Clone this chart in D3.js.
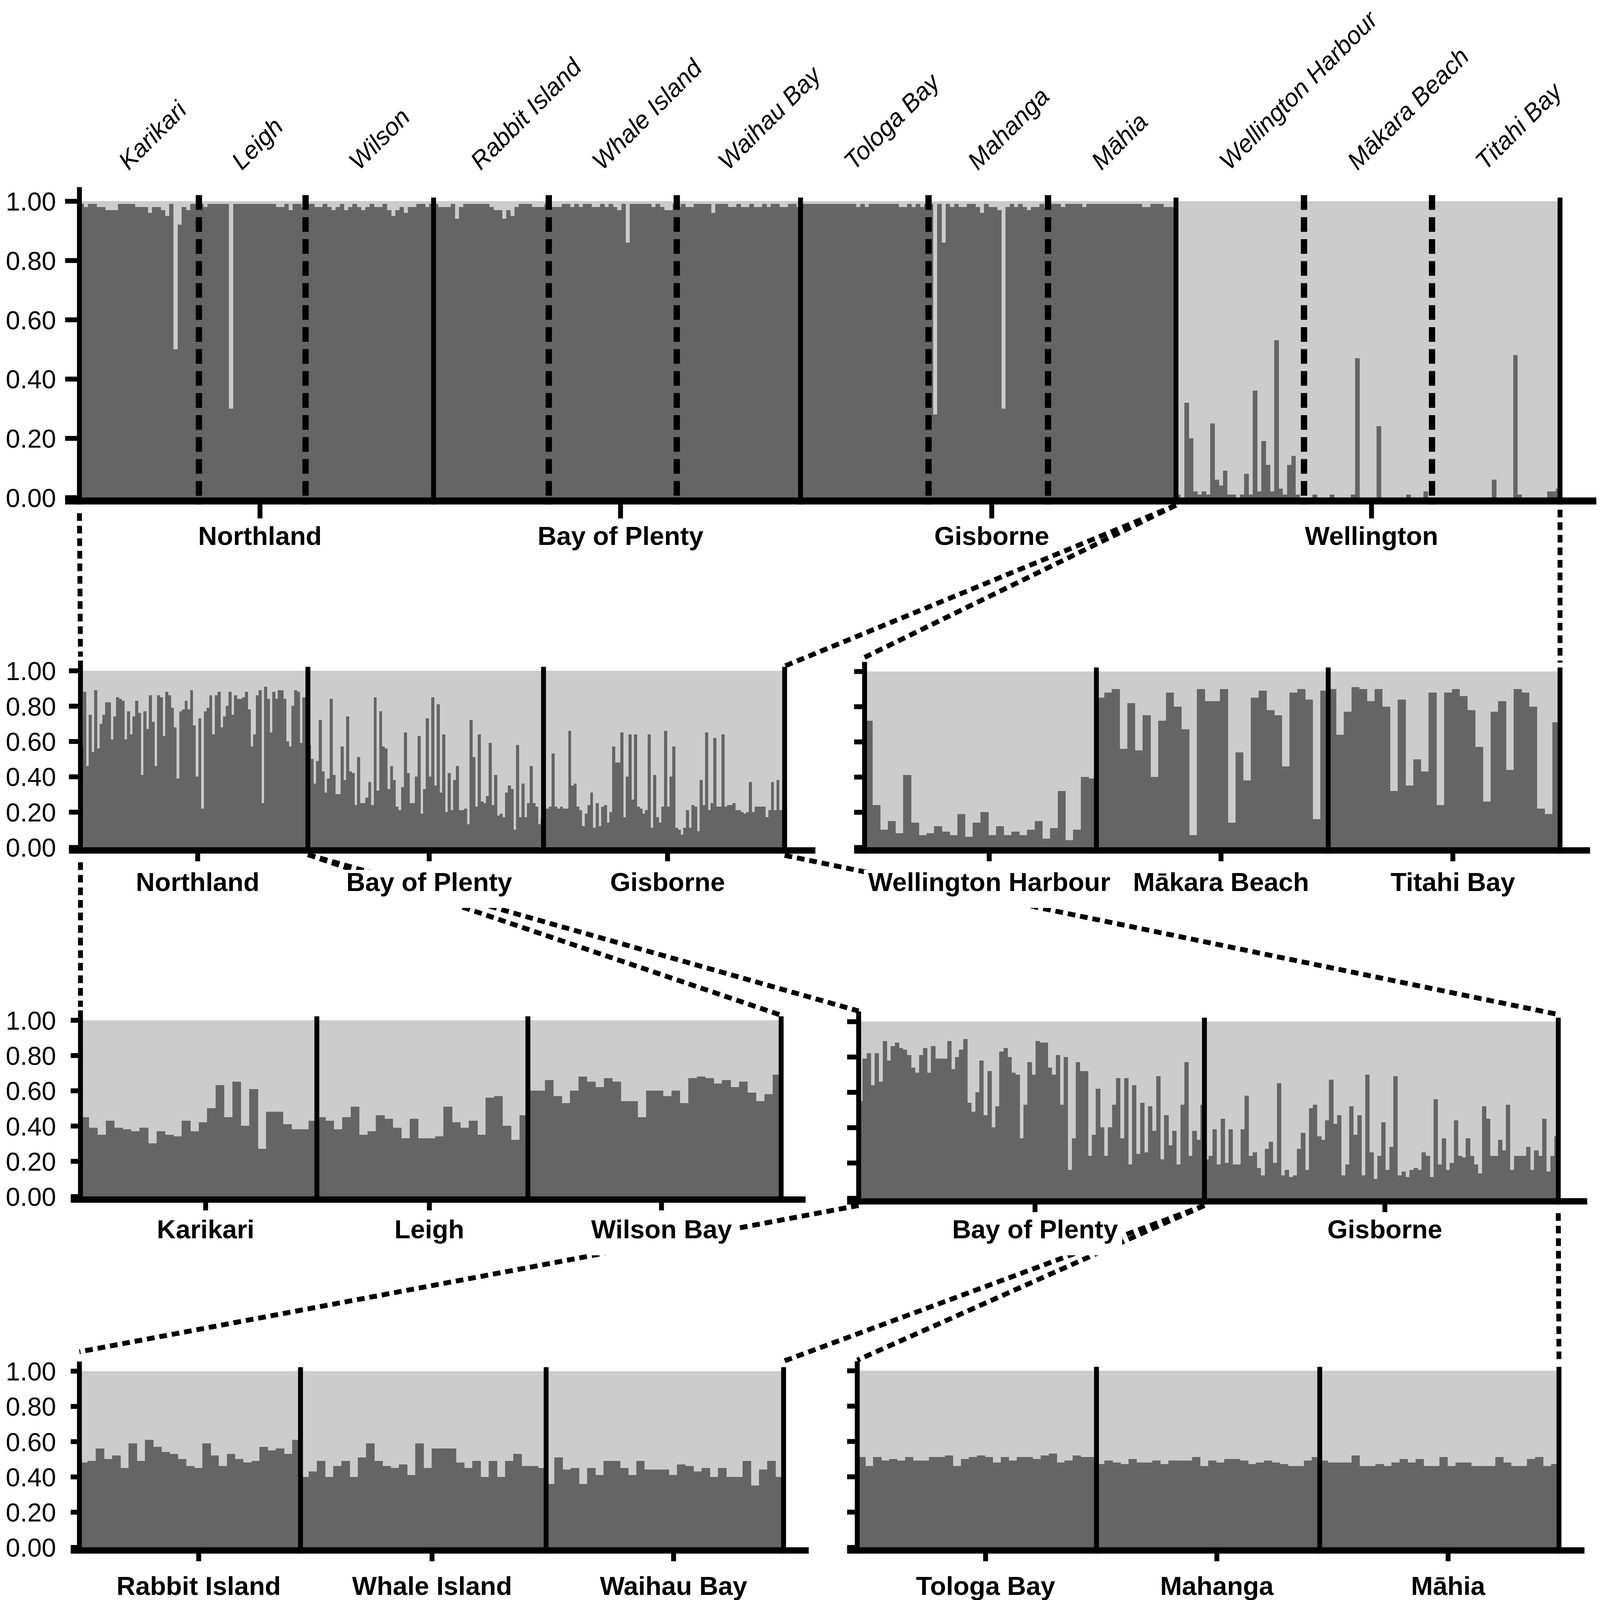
<!DOCTYPE html>
<html>
<head>
<meta charset="utf-8">
<script src="https://cdn.jsdelivr.net/npm/d3@7/dist/d3.min.js"></script>
<style>
html,body{margin:0;padding:0;background:#fff;overflow:hidden;width:100%;height:100%;}
svg{display:block;width:100vw;height:100vh;}
</style>
</head>
<body>
<script>
// ================= DATA =================
const yTickValues = [0, 0.2, 0.4, 0.6, 0.8, 1.0];
const regionNames = ["Northland", "Bay of Plenty", "Gisborne", "Wellington"];
const popNames = ["Karikari", "Leigh", "Wilson", "Rabbit Island", "Whale Island", "Waihau Bay",
                  "Tologa Bay", "Mahanga", "Māhia", "Wellington Harbour", "Mākara Beach", "Titahi Bay"];

// Panel A: all sites (membership in dark cluster per individual)
const topKarikari = [.99,.98,.99,.99,.98,.98,.97,.97,.97,.99,.99,.99,.99,.98,.98,.98,.96,.98,.98,.97,.95,.99,.50,.92,.98,.97,.99,.99];
const topLeigh    = [.99,.98,.99,.99,.99,.99,.99,.30,.99,.99,.99,.99,.99,.99,.99,.99,.99,.99,.98,.98,.99,.97,.99,.99,.98];
const topWilson   = [.99,.99,.98,.98,.99,.98,.97,.98,.99,.97,.98,.99,.98,.97,.98,.99,.98,.98,.99,.97,.95,.97,.98,.96,.98,.98,.99,.99,.98,.99];
const topRabbit   = [.99,.98,.98,.98,.99,.94,.98,.99,.99,.99,.99,.99,.99,.98,.97,.97,.94,.97,.95,.98,.99,.99,.99,.98,.98,.98,.99];
const topWhale    = [.98,.98,.98,.99,.99,.98,.99,.98,.99,.99,.98,.98,.99,.98,.99,.98,.97,.99,.86,.99,.99,.99,.99,.99,.98,.99,.98,.97,.97,.99];
const topWaihau   = [.98,.99,.98,.98,.99,.99,.99,.99,.96,.99,.99,.99,.98,.98,.99,.98,.98,.99,.98,.98,.99,.98,.99,.99,.98,.98,.99,.99,.98];
const topTologa   = [.99,.99,.99,.99,.99,.99,.99,.99,.99,.99,.99,.99,.99,.98,.99,.98,.99,.99,.99,.99,.99,.99,.99,.98,.98,.99,.98,.99,.98,.99];
const topMahanga  = [.99,.28,.99,.86,.99,.98,.99,.98,.98,.99,.99,.98,.96,.99,.98,.98,.97,.30,.98,.99,.98,.99,.98,.97,.98,.98,.99,.98];
const topMahia    = [.99,.99,.99,.98,.99,.99,.99,.99,.98,.99,.99,.99,.99,.99,.99,.99,.99,.99,.99,.99,.99,.99,.98,.98,.99,.99,.99,.98,.98,.98];
const topWH       = [.01,.00,.32,.20,.02,.01,.02,.01,.25,.06,.04,.09,.01,.01,.00,.01,.08,.01,.36,.02,.19,.11,.02,.53,.03,.01,.11,.14,.01,.00];
const topMakara   = [.00,.00,.01,.00,.00,.00,.01,.00,.00,.00,.00,.01,.47,.00,.00,.00,.00,.24,.00,.00,.00,.00,.00,.00,.01,.00,.00,.00,.02,.00];
const topTitahi   = [.00,.00,.00,.00,.00,.00,.00,.00,.00,.00,.00,.00,.00,.00,.06,.00,.00,.00,.00,.48,.01,.00,.00,.00,.00,.00,.00,.02,.02,.03];

// Panel B: Northland / Bay of Plenty / Gisborne
const r2Northland = [.57,.88,.46,.75,.54,.89,.56,.70,.75,.82,.82,.61,.74,.85,.84,.83,.61,.77,.64,.74,
  .83,.76,.41,.77,.67,.86,.71,.46,.86,.85,.63,.88,.86,.79,.68,.39,.77,.78,.83,.78,
  .89,.69,.40,.73,.22,.77,.79,.86,.64,.86,.88,.68,.74,.80,.88,.75,.86,.84,.84,.85,
  .88,.78,.57,.64,.86,.89,.25,.91,.84,.65,.88,.84,.89,.89,.84,.60,.57,.80,.89,.88,.59,.85,.58];
const r2BayOfPlenty = [.58,.50,.36,.49,.72,.43,.31,.39,.84,.41,.30,.30,.57,.38,.74,.43,.42,.24,.51,.25,
  .25,.28,.37,.24,.85,.32,.77,.57,.56,.33,.46,.38,.23,.21,.34,.65,.42,.25,.25,.40,.63,.19,
  .33,.73,.40,.85,.35,.81,.31,.64,.20,.42,.21,.38,.46,.21,.21,.22,.13,.72,.51,.23,
  .64,.26,.25,.29,.59,.24,.41,.18,.19,.17,.31,.35,.33,.10,.58,.17,.36,.17,.25,.46,.25,.23,.13,.16];
const r2Gisborne = [.22,.22,.23,.53,.23,.22,.23,.22,.22,.66,.35,.36,.23,.21,.12,.19,.24,.31,.11,.25,
  .12,.23,.24,.14,.20,.57,.48,.48,.65,.17,.40,.64,.27,.64,.23,.22,.19,.21,.64,.11,
  .41,.17,.14,.23,.66,.23,.40,.57,.11,.10,.07,.11,.21,.11,.24,.23,.09,.38,.24,.65,
  .21,.25,.62,.23,.23,.64,.23,.24,.24,.25,.21,.21,.20,.19,.20,.37,.20,.23,.23,.23,
  .23,.17,.21,.37,.21,.38,.21,.22];

// Panel C: Wellington sites
const r2WellingtonHarbour = [.72,.24,.10,.15,.08,.41,.14,.07,.08,.12,.09,.07,.19,.06,.14,.20,.07,.12,.07,.09,.07,.10,.15,.05,.11,.32,.04,.10,.40,.39];
const r2MakaraBeach = [.85,.88,.90,.56,.82,.55,.75,.40,.72,.88,.80,.67,.07,.90,.83,.83,.90,.14,.54,.38,.85,.89,.78,.75,.46,.88,.90,.84,.16,.89];
const r2TitahiBay = [.90,.64,.77,.91,.90,.83,.90,.80,.32,.84,.35,.50,.43,.88,.24,.88,.90,.86,.78,.57,.26,.77,.83,.44,.90,.88,.80,.22,.19,.71];

// Panel D: Northland sites
const r3Karikari = [.45,.39,.35,.43,.39,.38,.37,.39,.30,.37,.35,.34,.43,.37,.42,.50,.63,.45,.65,.40,.61,.27,.48,.48,.41,.38,.38,.43];
const r3Leigh = [.45,.43,.38,.45,.51,.35,.37,.46,.44,.39,.33,.44,.33,.33,.34,.51,.42,.39,.43,.35,.56,.57,.40,.32,.46];
const r3WilsonBay = [.60,.60,.66,.57,.53,.60,.68,.65,.62,.67,.65,.54,.54,.45,.60,.60,.57,.60,.53,.67,.68,.67,.64,.66,.62,.65,.59,.54,.58,.69];

// Panel E: Bay of Plenty / Gisborne
const r3BayOfPlenty = [.55,.79,.82,.64,.82,.66,.89,.78,.86,.88,.85,.84,.81,.74,.71,.81,.85,.71,.86,.79,
  .79,.79,.89,.73,.80,.84,.90,.54,.49,.60,.78,.47,.72,.40,.52,.83,.85,.80,.71,.70,
  .34,.53,.77,.70,.89,.88,.88,.74,.70,.81,.53,.80,.16,.34,.77,.72,.72,.24,.36,.62,
  .40,.24,.40,.53,.68,.34,.68,.19,.64,.25,.54,.26,.52,.38,.69,.22,.47,.30,.38,.19,
  .53,.77,.24,.38,.33,.53];
const r3Gisborne = [.22,.24,.39,.19,.45,.20,.39,.19,.19,.39,.58,.24,.26,.17,.13,.28,.32,.20,.65,.13,
  .16,.12,.13,.28,.37,.16,.51,.53,.35,.33,.44,.67,.42,.47,.13,.19,.52,.36,.47,.13,
  .70,.26,.11,.24,.43,.16,.29,.69,.13,.15,.12,.16,.17,.16,.26,.24,.12,.56,.19,.34,
  .16,.20,.44,.24,.23,.34,.24,.19,.14,.52,.45,.24,.24,.33,.27,.53,.16,.24,.24,.24,
  .29,.16,.27,.24,.45,.15,.24,.35];

// Panel F: Bay of Plenty sites
const r4RabbitIsland = [.48,.49,.56,.50,.52,.45,.59,.49,.61,.57,.54,.53,.50,.46,.45,.59,.52,.46,.53,.50,.48,.49,.57,.55,.56,.53,.61];
const r4WhaleIsland = [.40,.43,.49,.40,.46,.49,.40,.51,.59,.49,.46,.45,.47,.41,.59,.45,.56,.56,.56,.48,.45,.49,.40,.49,.40,.49,.53,.46,.46,.45];
const r4WaihauBay = [.36,.51,.44,.45,.36,.45,.41,.49,.49,.45,.41,.49,.44,.44,.44,.41,.47,.46,.43,.45,.40,.45,.40,.40,.49,.35,.44,.49,.40];

// Panel G: Gisborne sites
const r4TologaBay = [.51,.46,.51,.49,.50,.49,.51,.49,.49,.51,.51,.52,.46,.50,.51,.52,.51,.48,.51,.49,.51,.51,.50,.52,.53,.48,.49,.52,.51,.51];
const r4Mahanga = [.47,.49,.48,.47,.50,.48,.48,.49,.47,.49,.49,.49,.51,.46,.49,.48,.50,.50,.49,.47,.48,.49,.48,.47,.46,.46,.49,.51];
const r4Mahia = [.49,.48,.48,.48,.52,.46,.46,.47,.46,.48,.50,.48,.50,.46,.46,.51,.46,.48,.48,.46,.46,.46,.51,.48,.46,.46,.50,.51,.46,.47];

// ================= DRAWING =================
const W = 4562, H = 4583;
const DARK = "#656565", LIGHT = "#cccccc";
const FONT = "'Liberation Sans', Arial, Helvetica, sans-serif";

const svg = d3.select("body").append("svg")
  .attr("viewBox", `0 0 ${W} ${H}`)
  .attr("preserveAspectRatio", "xMidYMid meet");
svg.append("rect").attr("width", W).attr("height", H).attr("fill", "#fff");
const gConn = svg.append("g");
const gPanels = svg.append("g");
const gLabels = svg.append("g");
const labelQueue = [];

function drawPanel(cfg) {
  const flat = [];
  cfg.groups.forEach((gr, gi) => gr.values.forEach(v => flat.push({ v, gi })));
  const x = d3.scaleBand().domain(d3.range(flat.length)).range([cfg.x0, cfg.x1]).paddingInner(0).paddingOuter(0);
  const y = d3.scaleLinear().domain([0, 1]).range([cfg.yBot, cfg.yTop]);
  const g = gPanels.append("g");
  const bw = x.bandwidth();

  g.append("g").attr("shape-rendering", "crispEdges").selectAll("rect").data(flat).join("rect")
    .attr("x", (d, i) => x(i)).attr("width", bw + 0.9)
    .attr("y", y(1)).attr("height", d => Math.max(0, y(d.v) - y(1)))
    .attr("fill", LIGHT);
  g.append("g").attr("shape-rendering", "crispEdges").selectAll("rect").data(flat).join("rect")
    .attr("x", (d, i) => x(i)).attr("width", bw + 0.9)
    .attr("y", d => y(d.v)).attr("height", d => Math.max(0, y(0) - y(d.v)))
    .attr("fill", DARK);

  const edges = [cfg.x0];
  let c = 0;
  cfg.groups.forEach(gr => { c += gr.values.length; edges.push(c >= flat.length ? cfg.x1 : x(c)); });

  cfg.groups.forEach((gr, gi) => {
    const ex = edges[gi + 1];
    const dashed = gr.sep === "dash";
    g.append("line")
      .attr("x1", ex).attr("x2", ex)
      .attr("y1", cfg.yTop - (dashed ? cfg.dashExt : cfg.sepExt))
      .attr("y2", cfg.yBot + cfg.xAxisW)
      .attr("stroke", "#000")
      .attr("stroke-width", dashed ? 18 : 14)
      .attr("stroke-dasharray", dashed ? "42,21" : null);
  });

  const xAxisY = cfg.yBot + cfg.xAxisW / 2;
  g.append("line")
    .attr("x1", cfg.x0 - cfg.tickLen).attr("x2", Math.min(W, cfg.x1 + cfg.xExt))
    .attr("y1", xAxisY).attr("y2", xAxisY)
    .attr("stroke", "#000").attr("stroke-width", cfg.xAxisW);

  const yAxis = d3.axisLeft(y).tickValues(yTickValues).tickSize(cfg.tickLen).tickPadding(cfg.tickPad)
    .tickFormat(cfg.yLabels ? d3.format(".2f") : () => "");
  const ga = g.append("g").attr("transform", `translate(${cfg.x0},0)`).call(yAxis);
  ga.select(".domain").remove();
  ga.selectAll(".tick line").attr("stroke", "#000").attr("stroke-width", 14);
  ga.selectAll(".tick text").attr("font-family", FONT).attr("font-size", 74).attr("fill", "#000").attr("dy", "0.36em");
  g.append("line")
    .attr("x1", cfg.x0).attr("x2", cfg.x0)
    .attr("y1", cfg.yTop - cfg.axisExt).attr("y2", cfg.yBot + cfg.xAxisW)
    .attr("stroke", "#000").attr("stroke-width", 14);

  cfg.xLabels.forEach(lb => {
    const cx = (edges[lb.from] + edges[lb.to + 1]) / 2 + cfg.tickShift;
    g.append("line")
      .attr("x1", cx).attr("x2", cx)
      .attr("y1", cfg.yBot + cfg.xAxisW - 2).attr("y2", cfg.yBot + cfg.xAxisW + cfg.gTickLen)
      .attr("stroke", "#000").attr("stroke-width", 14);
    labelQueue.push({ text: lb.label, x: cx, y: cfg.yBot + cfg.labelDy, mask: cfg.mask });
  });

  if (cfg.topNames) {
    cfg.groups.forEach((gr, gi) => {
      const cx = (edges[gi] + edges[gi + 1]) / 2 - 30;
      gLabels.append("text")
        .attr("transform", `translate(${cx},${cfg.yTop - 86}) rotate(-45)`)
        .attr("font-family", FONT).attr("font-style", "italic").attr("font-size", 71)
        .attr("fill", "#000").text(gr.name);
    });
  }
  return { x, y, edges, ...cfg };
}

const base = { xAxisW: 18, sepExt: 11, dashExt: 17, gTickLen: 22, tickShift: 10, xExt: 80, mask: true };

// Panel A
const regionOf = [0, 0, 0, 1, 1, 1, 2, 2, 2, 3, 3, 3];
const topValues = [topKarikari, topLeigh, topWilson, topRabbit, topWhale, topWaihau,
                   topTologa, topMahanga, topMahia, topWH, topMakara, topTitahi];
const topGroups = popNames.map((n, i) => ({
  name: n, values: topValues[i],
  sep: (i === popNames.length - 1 || regionOf[i + 1] !== regionOf[i]) ? "solid" : "dash"
}));
const pA = drawPanel({ ...base, x0: 217, x1: 4458, yTop: 576, yBot: 1425, xAxisW: 20,
  tickLen: 41, tickPad: 26, yLabels: true, axisExt: 40, sepExt: 10, xExt: 110, gTickLen: 40, labelDy: 136,
  groups: topGroups, topNames: true, mask: false,
  xLabels: regionNames.map((r, ri) => ({ label: r, from: regionOf.indexOf(ri), to: regionOf.lastIndexOf(ri) })) });

// Panel B
const pB = drawPanel({ ...base, x0: 220, x1: 2237, yTop: 1921, yBot: 2427,
  tickLen: 33, tickPad: 37, yLabels: true, axisExt: 29, xExt: 88, labelDy: 125,
  groups: [{ name: "Northland", values: r2Northland, sep: "solid" },
           { name: "Bay of Plenty", values: r2BayOfPlenty, sep: "solid" },
           { name: "Gisborne", values: r2Gisborne, sep: "solid" }],
  xLabels: [{ label: "Northland", from: 0, to: 0 }, { label: "Bay of Plenty", from: 1, to: 1 }, { label: "Gisborne", from: 2, to: 2 }] });

// Panel C
const pC = drawPanel({ ...base, x0: 2466, x1: 4458, yTop: 1923, yBot: 2427,
  tickLen: 30, tickPad: 20, yLabels: false, axisExt: 27, xExt: 86, labelDy: 125, tickShift: 25,
  groups: [{ name: "Wellington Harbour", values: r2WellingtonHarbour, sep: "solid" },
           { name: "Mākara Beach", values: r2MakaraBeach, sep: "solid" },
           { name: "Titahi Bay", values: r2TitahiBay, sep: "solid" }],
  xLabels: [{ label: "Wellington Harbour", from: 0, to: 0 }, { label: "Mākara Beach", from: 1, to: 1 }, { label: "Titahi Bay", from: 2, to: 2 }] });

// Panel D
const pD = drawPanel({ ...base, x0: 220, x1: 2227, yTop: 2922, yBot: 3427,
  tickLen: 28, tickPad: 42, yLabels: true, axisExt: 28, xExt: 70, labelDy: 120, tickShift: 20,
  groups: [{ name: "Karikari", values: r3Karikari, sep: "solid" },
           { name: "Leigh", values: r3Leigh, sep: "solid" },
           { name: "Wilson Bay", values: r3WilsonBay, sep: "solid" }],
  xLabels: [{ label: "Karikari", from: 0, to: 0 }, { label: "Leigh", from: 1, to: 1 }, { label: "Wilson Bay", from: 2, to: 2 }] });

// Panel E
const pE = drawPanel({ ...base, x0: 2449, x1: 4453, yTop: 2926, yBot: 3432,
  tickLen: 33, tickPad: 20, yLabels: false, axisExt: 29, xExt: 83, labelDy: 115, tickShift: 10,
  groups: [{ name: "Bay of Plenty", values: r3BayOfPlenty, sep: "solid" },
           { name: "Gisborne", values: r3Gisborne, sep: "solid" }],
  xLabels: [{ label: "Bay of Plenty", from: 0, to: 0 }, { label: "Gisborne", from: 1, to: 1 }] });

// Panel F
const pF = drawPanel({ ...base, x0: 217, x1: 2234, yTop: 3927, yBot: 4432,
  tickLen: 25, tickPad: 42, yLabels: true, axisExt: 27, xExt: 72, labelDy: 136, tickShift: 25,
  groups: [{ name: "Rabbit Island", values: r4RabbitIsland, sep: "solid" },
           { name: "Whale Island", values: r4WhaleIsland, sep: "solid" },
           { name: "Waihau Bay", values: r4WaihauBay, sep: "solid" }],
  xLabels: [{ label: "Rabbit Island", from: 0, to: 0 }, { label: "Whale Island", from: 1, to: 1 }, { label: "Waihau Bay", from: 2, to: 2 }] });

// Panel G
const pG = drawPanel({ ...base, x0: 2445, x1: 4455, yTop: 3926, yBot: 4432,
  tickLen: 29, tickPad: 20, yLabels: false, axisExt: 27, xExt: 73, labelDy: 136, tickShift: 25,
  groups: [{ name: "Tologa Bay", values: r4TologaBay, sep: "solid" },
           { name: "Mahanga", values: r4Mahanga, sep: "solid" },
           { name: "Māhia", values: r4Mahia, sep: "solid" }],
  xLabels: [{ label: "Tologa Bay", from: 0, to: 0 }, { label: "Mahanga", from: 1, to: 1 }, { label: "Māhia", from: 2, to: 2 }] });

// ===== connectors (dotted zoom lines) =====
function conn(x1, y1, x2, y2) {
  gConn.append("line").attr("x1", x1).attr("y1", y1).attr("x2", x2).attr("y2", y2)
    .attr("stroke", "#000").attr("stroke-width", 14).attr("stroke-dasharray", "22,14");
}
const below = p => p.yBot + p.xAxisW;
// A -> B, C
conn(pA.x0, below(pA) + 25, pB.x0, pB.yTop - 40);
conn(pA.edges[9], below(pA) + 2, pB.x1, pB.yTop - 13);
conn(pA.edges[9], below(pA) + 2, pC.x0, pC.yTop - 40);
conn(pA.x1, below(pA) + 15, pC.x1, pC.yTop - 25);
// B -> D, E
conn(pB.x0, below(pB) + 25, pD.x0, pD.yTop - 38);
conn(pB.edges[1], below(pB) + 3, pD.x1, pD.yTop - 14);
conn(pB.edges[1], below(pB) + 3, pE.x0, pE.yTop - 30);
conn(pB.x1, below(pB) + 5, pE.x1, pE.yTop - 20);
// E -> F, G
conn(pE.x0, below(pE) + 3, pF.x0, pF.yTop - 55);
conn(pE.edges[1], below(pE) + 3, pF.x1, pF.yTop - 28);
conn(pE.edges[1], below(pE) + 3, pG.x0, pG.yTop - 30);
conn(pE.x1, below(pE) + 25, pG.x1, pG.yTop - 30);

// ===== labels (with white masks hiding connectors) =====
labelQueue.forEach(l => {
  const t = gLabels.append("text")
    .attr("x", l.x).attr("y", l.y).attr("text-anchor", "middle")
    .attr("font-family", FONT).attr("font-weight", "bold").attr("font-size", 75)
    .attr("fill", "#000").text(l.text);
  if (l.mask) {
    const bb = t.node().getBBox();
    gLabels.insert("rect", () => t.node())
      .attr("x", bb.x - 12).attr("y", bb.y + 8)
      .attr("width", bb.width + 24).attr("height", bb.height + 25)
      .attr("fill", "#fff");
  }
});
</script>
</body>
</html>
